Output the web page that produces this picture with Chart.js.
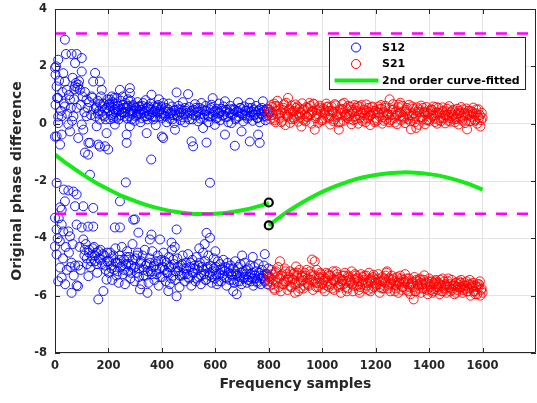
<!DOCTYPE html>
<html>
<head>
<meta charset="utf-8">
<script src="https://cdn.jsdelivr.net/npm/chart.js"></script>
<style>
  html, body { margin: 0; padding: 0; background: #fff; }
</style>
</head>
<body>
<canvas id="grafico" width="537" height="403"></canvas>
<script>
// S12 - banda superior (perto de 0) e pontos soltos
const s12Upper = [
  [0,1.95],[2,1.71],[4,2.0],[6,1.30],[12,2.23],[12,0.89],[2,0.66],[12,0.25],[12,0.02],[6,-0.44],[0,-0.45],[19,-0.73],
  [25,0.26],[25,-0.38],[31,1.76],[37,2.93],[37,1.47],[37,0.60],[41,2.43],[44,1.18],[50,-0.03],[56,0.84],[56,-0.27],
  [62,2.43],[69,0.26],[75,2.11],[75,1.30],[81,2.43],[81,0.55],[87,1.36],[87,-0.50],[93,1.18],[100,2.29],[100,1.82],
  [100,-0.03],[106,-0.21],[118,0.84],[118,0.26],[125,-0.67],[131,-0.67],[137,0.95],[143,1.47],[150,1.77],[156,0.60],
  [156,-0.09],[162,-0.73],[168,1.47],[168,0.14],[168,-0.80],[175,1.18],[187,0.49],[187,-0.79],[193,-0.33],[199,-0.90],
  [78,1.42],[84,1.25],[90,1.48],[72,1.2],[8,0.9],[15,1.5],[22,0.45],[28,1.1],[33,0.7],[46,0.35],[52,1.0],[59,0.55],
  [64,0.1],[66,1.6],[71,0.85],[96,0.65],[103,0.95],[110,0.4],[112,1.1],[122,0.55],[128,0.75],[135,0.3],[140,0.9],
  [146,0.5],[152,0.25],[160,0.8],[165,0.45],[172,0.95],[178,0.3],[182,0.7],[190,0.15],[196,0.85],
  [202,0.45],[204,0.7],[206,0.84],[208,0.6],[210,0.3],[213,0.95],[216,0.55],[218,0.20],[220,0.35],[222,0.9],[224,-0.03],
  [226,0.7],[228,0.4],[231,0.89],[233,0.5],[236,0.62],[238,0.15],[241,0.28],[243,1.18],[246,0.8],[248,0.5],[250,0.4],
  [253,0.95],[255,0.65],[258,0.38],[261,0.25],[264,0.72],[268,0.55],[268,-0.38],[268,-0.67],[270,0.18],[273,0.85],
  [276,0.6],[280,1.24],[280,1.07],[280,0.26],[280,-0.09],[283,0.8],[286,0.45],[289,0.35],[292,0.65],[295,0.6],[298,0.1],
  [302,0.55],[305,0.49],[306,0.3],[309,0.75],[311,0.35],[314,0.42],[317,0.6],[320,0.05],[324,0.2],[327,0.62],[330,0.72],
  [333,0.38],[336,0.45],[339,0.82],[343,0.26],[343,-0.33],[346,0.15],[349,0.6],[352,0.5],[355,0.3],[358,0.7],[361,1.01],
  [364,0.25],[368,0.15],[371,0.6],[374,0.45],[377,-0.05],[380,0.55],[383,0.4],[386,0.65],[389,0.85],[392,0.26],[395,0.5],
  [398,0.35],[400,-0.45],[401,0.2],[405,0.72],[405,-0.50],
  [410,0.28],[414,0.55],[418,0.05],[422,0.42],[426,0.7],[430,0.18],[434,0.38],[438,0.6],[442,0.3],[446,0.02],[449,-0.21],
  [450,0.48],[455,1.09],[458,0.25],[462,0.62],[466,0.38],[470,0.12],[474,0.5],[478,0.75],[482,0.32],[486,0.05],[490,0.45],
  [494,0.22],[498,1.03],[502,0.58],[506,0.36],[511,-0.62],[514,0.15],[517,-0.79],[520,0.48],[524,0.68],[528,0.28],
  [532,0.4],[536,0.08],[540,0.55],[544,0.33],[548,0.72],[554,-0.15],[556,0.2],[560,0.45],[564,0.62],[567,-0.66],
  [570,0.3],[574,0.05],[578,0.5],[582,0.25],[586,0.66],[590,0.89],[594,0.4],[598,-0.04],[602,0.18],[606,0.52],
  [610,0.35],[614,0.7],[618,0.12],[622,0.45],[626,0.28],[630,0.6],[636,0.78],[636,-0.38],[640,0.22],[644,0.48],
  [648,0.05],[652,0.38],[656,0.62],[660,0.02],[664,0.3],[668,0.52],[673,-0.77],[676,0.15],[680,0.42],[685,0.75],
  [688,0.25],[692,0.55],[698,-0.27],[700,0.35],[704,0.08],[708,0.6],[712,0.3],[716,0.45],[720,0.18],[724,0.55],
  [729,0.73],[729,-0.62],[732,0.28],[736,0.42],[740,0.1],[744,0.5],[748,0.32],[752,0.62],[756,0.2],[760,-0.38],
  [762,0.45],[766,0.05],[766,-0.67],[770,0.35],[774,0.55],[778,0.78],[780,0.25],[784,0.42],[788,0.12],[792,0.5],
  [796,0.3],[800,0.4],
  [153,0.55],[161,0.35],[169,0.7],[177,0.6],[185,0.25],[192,0.55],[200,0.65],[207,0.15],[215,0.75],[223,0.5],[230,0.2],
  [239,0.45],[247,0.3],[256,0.55],[263,0.4],[271,0.62],[279,0.38],[287,0.15],[294,0.45],[303,0.25],[312,0.6],[319,0.35],
  [326,0.48],[335,0.25],[344,0.55],[351,0.32],[360,0.5],[367,0.4],[375,0.22],[382,0.6],[391,0.42],[399,0.6],[407,0.38],
  [415,0.25],[423,0.5],[431,0.35],[439,0.15],[447,0.45],[456,0.3],[463,0.5],[471,0.4],[479,0.22],[487,0.55],[495,0.38],
  [503,0.15],[512,0.45],[519,0.3],[527,0.55],[535,0.42],[543,0.18],[551,0.5],[559,0.32],[567,0.45],[575,0.25],[583,0.55],
  [591,0.3],[599,0.45],[607,0.2],[615,0.38],[623,0.52],[631,0.3],[639,0.42],[647,0.25],[655,0.5],[663,0.35],[671,0.48],
  [679,0.2],[687,0.4],[695,0.55],[703,0.3],[711,0.45],[719,0.25],[727,0.4],[735,0.55],[743,0.3],[751,0.42],[759,0.2],
  [767,0.5],[775,0.32],[783,0.45],[791,0.25],[799,0.5]
];

// S12 - banda inferior (perto de -2pi) e pontos soltos do meio
const s12Lower = [
  [6,-2.07],[33,-2.3],[50,-2.33],[69,-2.37],[81,-2.47],[37,-2.71],[19,-2.92],[25,-3.0],[106,-2.88],[75,-2.88],
  [143,-2.94],[243,-2.71],[265,-2.05],[580,-2.06],[131,-1.78],[112,-1.01],[124,-1.08],[360,-1.25],
  [0,-3.28],[25,-3.52],[6,-3.69],[31,-3.76],[50,-3.76],[81,-3.52],[100,-3.62],[124,-3.59],[143,-3.59],[56,-3.93],
  [106,-4.04],[224,-3.62],[243,-3.62],[312,-3.80],[355,-4.04],[0,-4.28],[6,-4.56],[19,-5.02],[25,-5.37],[62,-4.85],
  [75,-4.95],[87,-4.95],[81,-5.64],[62,-5.90],[181,-5.84],[162,-6.13],[125,-5.32],[86,-5.67],[193,-5.44],[318,-5.78],
  [424,-5.84],[455,-6.02],[346,-5.9],[667,-5.84],[680,-5.95],[455,-3.69],[567,-3.81],[580,-3.98],[299,-3.34],
  [393,-4.04],[361,-3.87],[293,-3.35],
  [10,-4.0],[14,-3.3],[40,-4.3],[44,-5.1],[12,-5.5],[30,-4.7],[52,-4.5],[66,-4.2],[92,-4.3],[96,-5.1],[110,-4.6],
  [115,-4.2],[120,-4.9],[128,-4.4],[133,-5.0],[138,-4.6],[146,-4.3],[150,-4.8],[154,-4.5],[158,-5.2],[164,-4.7],
  [170,-4.4],[176,-4.9],[184,-4.6],[190,-5.1],[196,-4.8],[38,-5.6],[18,-4.1],[70,-5.3],[58,-5.0],
  [202,-5.2],[206,-4.5],[210,-4.95],[214,-5.45],[218,-4.7],[222,-5.1],[226,-4.35],[230,-5.3],[234,-4.85],[238,-5.55],
  [242,-4.6],[246,-5.0],[250,-4.3],[254,-5.25],[258,-4.75],[262,-5.6],[266,-4.9],[270,-4.45],[274,-5.15],[278,-4.65],
  [282,-5.4],[286,-4.95],[290,-4.2],[294,-5.05],[298,-5.5],[302,-4.7],[306,-5.2],[310,-4.5],[314,-5.35],[320,-4.85],
  [324,-5.6],[328,-4.6],[332,-5.1],[336,-4.4],[340,-5.3],[344,-4.9],[350,-5.55],[354,-4.7],[358,-5.15],[364,-4.45],
  [368,-5.0],[372,-5.45],[376,-4.8],[380,-5.25],[384,-4.6],[388,-5.65],[392,-5.05],[398,-4.75],[402,-5.35],[406,-4.5],
  [410,-5.1],[414,-5.5],[418,-4.85],[422,-5.2],[426,-4.65],[430,-5.6],[434,-5.0],[436,-4.15],[438,-4.4],[442,-5.3],
  [446,-4.9],[448,-4.3],[450,-5.45],[458,-4.7],[462,-5.15],[466,-5.7],[470,-4.95],[474,-5.3],[478,-4.6],[482,-5.05],
  [486,-5.5],[490,-4.85],[494,-5.25],[498,-4.55],[502,-5.4],[506,-5.0],[510,-5.65],[514,-4.75],[518,-5.2],[522,-4.95],
  [526,-5.5],[530,-4.65],[534,-5.1],[538,-5.35],[540,-4.35],[542,-4.85],[546,-5.6],[550,-5.0],[554,-4.5],[558,-5.25],
  [560,-4.2],[562,-4.8],[566,-5.45],[570,-5.05],[574,-4.6],[578,-5.3],[582,-4.95],[586,-5.55],[590,-5.15],[594,-4.7],
  [598,-5.4],[600,-4.45],[602,-5.0],[606,-5.6],[610,-4.8],[614,-5.25],[618,-4.9],[622,-5.5],[626,-5.1],[630,-4.75],
  [634,-5.35],[638,-5.0],[642,-5.65],[646,-4.85],[650,-5.2],[654,-5.45],[658,-4.95],[662,-5.3],[666,-5.05],[670,-5.55],
  [674,-4.8],[678,-5.25],[682,-5.5],[686,-5.0],[690,-5.35],[694,-4.9],[698,-5.6],[700,-4.6],[702,-5.15],[706,-5.4],
  [710,-4.85],[714,-5.25],[718,-5.55],[722,-5.05],[726,-5.35],[730,-4.95],[734,-5.5],[738,-5.2],[740,-4.65],[742,-5.65],
  [746,-5.0],[750,-5.4],[754,-5.15],[758,-5.55],[762,-4.9],[766,-5.3],[770,-5.6],[774,-5.1],[778,-5.4],[782,-4.95],
  [785,-4.55],[786,-5.5],[790,-5.25],[794,-5.6],[798,-5.05],[800,-5.35],
  [111,-4.4],[119,-4.7],[127,-4.5],[135,-4.8],[141,-4.35],[149,-4.6],[157,-4.9],[163,-4.45],[171,-4.75],[179,-4.55],
  [187,-4.95],[195,-4.5],[203,-4.8],[211,-5.05],[219,-4.6],[227,-4.85],[235,-5.15],[243,-4.75],[251,-4.95],[259,-5.1],
  [267,-4.65],[275,-4.9],[283,-5.2],[291,-4.75],[299,-5.0],[307,-4.6],[315,-5.05],[323,-4.8],[331,-5.3],[339,-4.95],
  [347,-5.15],[355,-4.85],[363,-5.25],[371,-4.95],[379,-5.1],[387,-4.8],[395,-5.35],[403,-5.0],[411,-4.8],[419,-5.2],
  [427,-5.0],[435,-5.4],[443,-4.75],[451,-5.15],[459,-5.0],[467,-5.3],[475,-4.9],[483,-5.25],[491,-5.05],[499,-5.35],
  [507,-4.85],[515,-5.2],[523,-5.05],[531,-5.4],[539,-4.95],[547,-5.3],[555,-5.1],[563,-5.45],[571,-5.0],[579,-5.2],
  [587,-5.35],[595,-5.05],[603,-5.25],[611,-5.5],[619,-5.1],[627,-5.3],[635,-5.15],[643,-5.4],[651,-5.05],[659,-5.25],
  [667,-5.45],[675,-5.15],[683,-5.3],[691,-5.5],[699,-5.2],[707,-5.35],[715,-5.1],[723,-5.45],[731,-5.25],[739,-5.4],
  [747,-5.3],[755,-5.5],[763,-5.2],[771,-5.4],[779,-5.3],[787,-5.45],[795,-5.25]
];

// S21 - banda superior
const s21Upper = [
  [800,0.5],[805,0.15],[810,0.65],[815,0.3],[820,0.7],[825,0.05],[830,0.45],[835,0.6],[840,0.2],[845,0.4],
  [850,0.1],[855,0.55],[860,0.35],[865,0.73],[870,0.25],[875,0.47],[880,0.03],[885,0.63],[890,0.43],[895,0.17],
  [900,0.67],[905,0.27],[910,0.07],[915,0.53],[920,0.39],[925,0.71],[930,0.13],[935,0.33],[940,0.57],[945,0.23],
  [950,0.3],[955,0.62],[960,0.0],[965,0.45],[970,0.68],[975,0.19],[980,0.47],[985,0.03],[990,0.63],[995,0.43],
  [1000,0.12],[1005,0.52],[1010,0.32],[1015,0.7],[1020,0.22],[1025,0.44],[1030,-0.03],[1035,0.6],[1040,0.4],[1045,0.14],
  [1050,0.64],[1055,0.24],[1060,0.04],[1065,0.5],[1070,0.36],[1075,0.68],[1080,0.1],[1085,0.3],[1090,0.54],[1095,0.2],
  [1100,0.27],[1105,0.59],[1110,-0.02],[1115,0.42],[1120,0.65],[1125,0.16],[1130,0.44],[1135,0.0],[1140,0.6],[1145,0.4],
  [1150,0.09],[1155,0.49],[1160,0.29],[1165,0.67],[1170,0.19],[1175,0.41],[1180,-0.05],[1185,0.57],[1190,0.37],[1195,0.11],
  [1200,0.45],[1205,0.1],[1210,0.6],[1215,0.25],[1220,0.65],[1225,0.0],[1230,0.4],[1235,0.55],[1240,0.15],[1245,0.35],
  [1250,0.05],[1255,0.5],[1260,0.3],[1265,0.68],[1270,0.2],[1275,0.42],[1280,-0.02],[1285,0.58],[1290,0.38],[1295,0.12],
  [1300,0.62],[1305,0.22],[1310,0.02],[1315,0.48],[1320,0.34],[1325,0.66],[1330,0.08],[1335,0.28],[1340,0.52],[1345,0.18],
  [1350,0.25],[1355,0.57],[1360,-0.04],[1365,0.4],[1370,0.63],[1375,0.14],[1380,0.42],[1385,-0.02],[1390,0.58],[1395,0.38],
  [1400,0.1],[1405,0.45],[1410,0.27],[1415,0.6],[1420,0.17],[1425,0.39],[1430,0.0],[1435,0.55],[1440,0.35],[1445,0.09],
  [1450,0.57],[1455,0.19],[1460,0.01],[1465,0.43],[1470,0.31],[1475,0.61],[1480,0.07],[1485,0.25],[1490,0.49],[1495,0.15],
  [1500,0.22],[1505,0.52],[1510,-0.03],[1515,0.37],[1520,0.58],[1525,0.11],[1530,0.39],[1535,0.02],[1540,0.53],[1545,0.33],
  [1550,0.08],[1555,0.44],[1560,0.24],[1565,0.56],[1570,0.14],[1575,0.36],[1580,0.0],[1585,0.5],[1590,0.3],[1595,0.12],
  [1600,0.2],
  [802,0.35],[812,0.58],[822,0.12],[832,0.8],[842,0.28],[852,0.48],[862,-0.05],[872,0.9],[882,0.38],[892,0.22],
  [902,0.55],[912,0.31],[922,-0.1],[932,0.5],[942,0.25],[952,0.72],[962,0.4],[972,-0.21],[982,0.34],[992,0.56],
  [1002,0.18],[1012,0.46],[1022,0.6],[1032,0.28],[1042,0.08],[1052,0.42],[1062,-0.21],[1072,0.52],[1082,0.73],[1092,0.33],
  [1102,0.15],[1112,0.48],[1122,0.25],[1132,0.62],[1142,0.2],[1152,0.38],[1162,0.05],[1172,0.55],[1182,0.3],[1192,0.45],
  [1202,0.2],[1212,0.37],[1222,0.52],[1232,0.1],[1242,0.3],[1252,0.85],[1262,0.48],[1272,0.04],[1282,0.33],[1292,0.73],
  [1302,0.26],[1312,0.42],[1322,0.15],[1332,-0.2],[1342,0.36],[1352,-0.15],[1362,0.5],[1372,0.22],[1382,0.4],[1392,0.12],
  [1402,0.33],[1412,0.48],[1422,0.06],[1432,0.38],[1442,0.2],[1452,0.45],[1462,0.28],[1472,0.1],[1482,0.4],[1492,0.3],
  [1502,0.16],[1512,0.45],[1522,0.25],[1532,0.35],[1542,-0.2],[1552,0.3],[1562,0.42],[1572,0.1],[1582,0.28],[1592,-0.1],
  [807,0.42],[817,0.2],[827,0.62],[837,0.35],[847,0.05],[857,0.68],[867,0.3],[877,0.52],[887,0.15],[897,0.44],
  [907,0.6],[917,0.22],[927,0.48],[937,0.08],[947,0.55],[957,0.33],[967,0.7],[977,0.26],[987,0.5],[997,0.1],
  [1007,0.38],[1017,0.58],[1027,0.2],[1037,0.45],[1047,0.68],[1057,0.3],[1067,0.05],[1077,0.5],[1087,0.25],[1097,0.62],
  [1107,0.35],[1117,0.12],[1127,0.55],[1137,0.3],[1147,0.65],[1157,0.18],[1167,0.45],[1177,0.28],[1187,0.6],[1197,0.05],
  [1207,0.4],[1217,0.52],[1227,0.22],[1237,0.62],[1247,0.32],[1257,0.12],[1267,0.5],[1277,0.28],[1287,0.66],[1297,0.4],
  [1307,0.18],[1317,0.55],[1327,0.3],[1337,0.6],[1347,0.05],[1357,0.42],[1367,0.22],[1377,0.55],[1387,0.35],[1397,0.15],
  [1407,0.5],[1417,0.28],[1427,0.58],[1437,0.12],[1447,0.4],[1457,0.3],[1467,0.52],[1477,0.2],[1487,0.45],[1497,0.05],
  [1507,0.35],[1517,0.18],[1527,0.5],[1537,0.28],[1547,0.45],[1557,0.1],[1567,0.35],[1577,0.5],[1587,0.2],[1597,0.38]
];

// S21 - banda inferior
const s21Lower = [
  [800,-5.3],[805,-5.65],[810,-5.1],[815,-5.45],[820,-5.75],[825,-5.2],[830,-5.55],[835,-5.0],[840,-5.4],[845,-5.85],
  [850,-5.25],[855,-5.6],[860,-5.05],[865,-5.5],[870,-5.8],[875,-5.35],[880,-5.15],[885,-5.7],[890,-5.45],[895,-5.2],
  [900,-5.6],[905,-5.3],[910,-5.85],[915,-5.1],[920,-5.5],[925,-5.35],[930,-5.75],[935,-5.2],[940,-5.55],[945,-5.4],
  [950,-5.65],[955,-5.15],[960,-5.45],[965,-5.8],[970,-5.3],[975,-5.55],[980,-5.1],[985,-5.7],[990,-5.4],[995,-5.25],
  [1000,-5.6],[1005,-5.35],[1010,-5.85],[1015,-5.2],[1020,-5.5],[1025,-5.7],[1030,-5.3],[1035,-5.55],[1040,-5.15],[1045,-5.8],
  [1050,-5.45],[1055,-5.25],[1060,-5.65],[1065,-5.4],[1070,-5.9],[1075,-5.3],[1080,-5.6],[1085,-5.2],[1090,-5.5],[1095,-5.75],
  [1100,-5.35],[1105,-5.55],[1110,-5.15],[1115,-5.85],[1120,-5.45],[1125,-5.3],[1130,-5.65],[1135,-5.4],[1140,-5.9],[1145,-5.25],
  [1150,-5.6],[1155,-5.45],[1160,-5.75],[1165,-5.3],[1170,-5.55],[1175,-5.2],[1180,-5.85],[1185,-5.5],[1190,-5.35],[1195,-5.7],
  [1200,-5.45],[1205,-5.6],[1210,-5.25],[1215,-5.9],[1220,-5.5],[1225,-5.35],[1230,-5.75],[1235,-5.55],[1240,-5.2],[1245,-5.65],
  [1250,-5.4],[1255,-5.85],[1260,-5.3],[1265,-5.6],[1270,-5.5],[1275,-5.75],[1280,-5.35],[1285,-5.9],[1290,-5.55],[1295,-5.4],
  [1300,-5.7],[1305,-5.45],[1310,-5.25],[1315,-5.8],[1320,-5.6],[1325,-5.4],[1330,-5.95],[1335,-5.55],[1340,-5.7],[1345,-5.35],
  [1350,-5.85],[1355,-5.5],[1360,-5.65],[1365,-5.4],[1370,-5.9],[1375,-5.6],[1380,-5.45],[1385,-5.75],[1390,-5.55],[1395,-5.95],
  [1400,-5.4],[1405,-5.7],[1410,-5.5],[1415,-5.85],[1420,-5.6],[1425,-5.45],[1430,-5.8],[1435,-5.55],[1440,-5.95],[1445,-5.65],
  [1450,-5.4],[1455,-5.75],[1460,-5.6],[1465,-5.9],[1470,-5.5],[1475,-5.7],[1480,-5.85],[1485,-5.45],[1490,-5.65],[1495,-5.95],
  [1500,-5.55],[1505,-5.8],[1510,-5.6],[1515,-5.7],[1520,-5.45],[1525,-5.9],[1530,-5.65],[1535,-5.75],[1540,-5.5],[1545,-5.85],
  [1550,-5.6],[1555,-6.0],[1560,-5.7],[1565,-5.55],[1570,-5.85],[1575,-5.65],[1580,-5.95],[1585,-5.7],[1590,-5.5],[1595,-5.8],
  [1600,-5.9],
  [802,-5.5],[812,-5.25],[822,-5.8],[832,-5.35],[842,-4.8],[852,-5.6],[862,-5.15],[872,-5.45],[882,-5.7],[892,-5.25],
  [898,-5.9],[902,-4.98],[912,-5.55],[922,-5.3],[932,-5.65],[942,-5.1],[952,-5.45],[962,-4.74],[972,-4.8],[982,-5.55],
  [992,-5.2],[1002,-5.75],[1012,-5.4],[1022,-5.25],[1032,-5.6],[1042,-5.45],[1052,-5.15],[1062,-5.7],[1072,-5.5],[1082,-5.3],
  [1092,-5.85],[1102,-5.45],[1112,-5.6],[1122,-5.25],[1132,-5.5],[1142,-5.7],[1152,-5.35],[1162,-5.55],[1172,-5.8],[1182,-5.4],
  [1192,-5.27],[1202,-5.65],[1212,-5.5],[1222,-5.75],[1232,-5.4],[1242,-5.15],[1252,-5.6],[1262,-5.45],[1272,-5.85],[1282,-5.55],
  [1292,-5.3],[1302,-5.7],[1312,-5.5],[1322,-5.85],[1332,-5.6],[1342,-6.13],[1352,-5.45],[1362,-5.75],[1372,-5.55],[1382,-5.29],
  [1392,-5.8],[1402,-5.6],[1412,-5.9],[1422,-5.5],[1432,-5.7],[1442,-5.45],[1452,-5.85],[1462,-5.65],[1472,-5.4],[1482,-5.75],
  [1492,-5.6],[1502,-5.9],[1512,-5.5],[1522,-5.7],[1532,-5.55],[1542,-5.85],[1552,-5.45],[1562,-5.65],[1572,-5.95],[1582,-5.6],
  [1592,-6.0],
  [807,-5.4],[817,-5.6],[827,-5.15],[837,-5.7],[847,-5.3],[857,-5.5],[867,-5.25],[877,-5.65],[887,-5.4],[897,-5.55],
  [907,-5.2],[917,-5.75],[927,-5.45],[937,-5.3],[947,-5.6],[957,-5.25],[967,-5.5],[977,-5.7],[987,-5.35],[997,-5.55],
  [1007,-5.45],[1017,-5.65],[1027,-5.3],[1037,-5.75],[1047,-5.5],[1057,-5.35],[1067,-5.6],[1077,-5.45],[1087,-5.7],[1097,-5.3],
  [1107,-5.5],[1117,-5.65],[1127,-5.4],[1137,-5.8],[1147,-5.5],[1157,-5.3],[1167,-5.65],[1177,-5.45],[1187,-5.75],[1197,-5.55],
  [1207,-5.4],[1217,-5.7],[1227,-5.5],[1237,-5.3],[1247,-5.75],[1257,-5.55],[1267,-5.4],[1277,-5.65],[1287,-5.5],[1297,-5.8],
  [1307,-5.55],[1317,-5.4],[1327,-5.7],[1337,-5.5],[1347,-5.85],[1357,-5.6],[1367,-5.45],[1377,-5.75],[1387,-5.6],[1397,-5.5],
  [1407,-5.8],[1417,-5.55],[1427,-5.7],[1437,-5.6],[1447,-5.85],[1457,-5.5],[1467,-5.7],[1477,-5.6],[1487,-5.8],[1497,-5.65],
  [1507,-5.7],[1517,-5.55],[1527,-5.8],[1537,-5.65],[1547,-5.75],[1557,-5.6],[1567,-5.85],[1577,-5.7],[1587,-5.6],[1597,-5.75]
];

// curvas ajustadas (2a ordem), antes e depois da amostra 800
const fitLeft = [
  [0,-1.08],[50,-1.43],[100,-1.75],[150,-2.04],[200,-2.29],[250,-2.52],[300,-2.70],[350,-2.86],[400,-2.98],
  [450,-3.07],[500,-3.13],[550,-3.15],[600,-3.14],[650,-3.10],[700,-3.02],[750,-2.91],[800,-2.77]
];
const fitRight = [
  [800,-3.55],[850,-3.20],[900,-2.89],[950,-2.62],[1000,-2.38],[1050,-2.18],[1100,-2.01],[1150,-1.88],[1200,-1.79],
  [1250,-1.73],[1300,-1.70],[1350,-1.71],[1400,-1.76],[1450,-1.84],[1500,-1.96],[1550,-2.11],[1600,-2.30]
];
const jumpPoints = [[800,-2.75],[800,-3.55]];

const piLevels = [3.1416, -3.1416];
const xRange = [0, 1800];
const xTicks = [0, 200, 400, 600, 800, 1000, 1200, 1400, 1600];
const yTicks = [-8, -6, -4, -2, 0, 2, 4];
const legendLabels = ['S12', 'S21', '2nd order curve-fitted'];

const corTexto = '#262626';
const verde = '#14ea14';

function pontos(lista) {
    return lista.map(p => ({ x: p[0], y: p[1] }));
}

Chart.defaults.font.family = "'DejaVu Sans', sans-serif";
Chart.defaults.font.weight = 'bold';
Chart.defaults.color = corTexto;

// moldura da área do gráfico com marcas internas (estilo MATLAB)
const moldura = {
    id: 'moldura',
    afterDraw(chart) {
        const ctx = chart.ctx;
        const a = chart.chartArea;
        const sx = chart.scales.x, sy = chart.scales.y;
        const t = 5;
        ctx.save();
        ctx.strokeStyle = corTexto;
        ctx.lineWidth = 1;
        ctx.beginPath();
        ctx.rect(a.left + 0.5, a.top + 0.5, a.right - a.left - 1, a.bottom - a.top - 1);
        xTicks.forEach(v => {
            const px = Math.round(sx.getPixelForValue(v)) + 0.5;
            ctx.moveTo(px, a.bottom); ctx.lineTo(px, a.bottom - t);
            ctx.moveTo(px, a.top); ctx.lineTo(px, a.top + t);
        });
        yTicks.forEach(v => {
            const py = Math.round(sy.getPixelForValue(v)) + 0.5;
            ctx.moveTo(a.left, py); ctx.lineTo(a.left + t, py);
            ctx.moveTo(a.right, py); ctx.lineTo(a.right - t, py);
        });
        ctx.stroke();
        ctx.restore();
    }
};

// legenda desenhada dentro da área do gráfico, canto superior direito
const legenda = {
    id: 'legenda',
    afterDraw(chart) {
        const ctx = chart.ctx;
        const a = chart.chartArea;
        const x0 = Math.round(a.right - 207) + 0.5, y0 = Math.round(a.top + 28) + 0.5, w = 196, h = 52;
        ctx.save();
        ctx.fillStyle = '#fff';
        ctx.fillRect(x0, y0, w, h);
        ctx.strokeStyle = corTexto;
        ctx.lineWidth = 1;
        ctx.strokeRect(x0, y0, w, h);

        const linhas = [y0 + 10, y0 + 26.5, y0 + 43];
        const xm = x0 + 26.5;
        ctx.lineWidth = 1;
        ctx.strokeStyle = '#0000ff';
        ctx.beginPath(); ctx.arc(xm, linhas[0], 4.5, 0, Math.PI * 2); ctx.stroke();
        ctx.strokeStyle = '#ff0000';
        ctx.beginPath(); ctx.arc(xm, linhas[1], 4.5, 0, Math.PI * 2); ctx.stroke();
        ctx.strokeStyle = verde;
        ctx.lineWidth = 4;
        ctx.beginPath(); ctx.moveTo(x0 + 5, linhas[2]); ctx.lineTo(x0 + 49, linhas[2]); ctx.stroke();

        ctx.fillStyle = '#000';
        ctx.font = "bold 11px 'DejaVu Sans', sans-serif";
        ctx.textBaseline = 'middle';
        legendLabels.forEach((txt, i) => ctx.fillText(txt, x0 + 52.5, linhas[i] + 0.5));
        ctx.restore();
    }
};

const dados = {
    datasets: [
        {
            label: 'salto',
            data: pontos(jumpPoints),
            pointRadius: 4,
            pointBorderWidth: 2.2,
            borderColor: '#000',
            backgroundColor: 'rgba(0,0,0,0)',
            order: 0
        },
        {
            label: '+pi',
            data: [{ x: xRange[0], y: piLevels[0] }, { x: xRange[1], y: piLevels[0] }],
            showLine: true,
            borderColor: '#ff00ff',
            borderWidth: 2.5,
            borderDash: [11, 10],
            pointRadius: 0,
            order: 1
        },
        {
            label: '-pi',
            data: [{ x: xRange[0], y: piLevels[1] }, { x: xRange[1], y: piLevels[1] }],
            showLine: true,
            borderColor: '#ff00ff',
            borderWidth: 2.5,
            borderDash: [11, 10],
            pointRadius: 0,
            order: 1
        },
        {
            label: legendLabels[2],
            data: pontos(fitLeft),
            showLine: true,
            borderColor: verde,
            borderWidth: 4,
            tension: 0.3,
            pointRadius: 0,
            order: 2
        },
        {
            label: legendLabels[2] + ' (2)',
            data: pontos(fitRight),
            showLine: true,
            borderColor: verde,
            borderWidth: 4,
            tension: 0.3,
            pointRadius: 0,
            order: 2
        },
        {
            label: legendLabels[1],
            data: pontos(s21Upper.concat(s21Lower)),
            pointRadius: 4.5,
            pointBorderWidth: 0.9,
            borderColor: '#ff0000',
            backgroundColor: 'rgba(0,0,0,0)',
            clip: 8,
            order: 3
        },
        {
            label: legendLabels[0],
            data: pontos(s12Upper.concat(s12Lower)),
            pointRadius: 4.5,
            pointBorderWidth: 0.9,
            borderColor: '#0000ff',
            backgroundColor: 'rgba(0,0,0,0)',
            clip: 8,
            order: 4
        }
    ]
};

const config = {
    type: 'scatter',
    data: dados,
    options: {
        responsive: false,
        animation: false,
        devicePixelRatio: 1,
        layout: { autoPadding: false, padding: { top: 9, right: 1, left: 0, bottom: 0 } },
        plugins: {
            legend: { display: false },
            tooltip: { enabled: false }
        },
        scales: {
            x: {
                type: 'linear',
                min: xRange[0],
                max: xRange[1],
                afterBuildTicks: s => { s.ticks = xTicks.map(v => ({ value: v })); },
                afterFit: s => { s.height = 50; s.paddingLeft = 0; s.paddingRight = 0; },
                border: { display: false },
                grid: { color: '#e3e3e3', drawTicks: false },
                ticks: {
                    padding: 6,
                    maxRotation: 0,
                    font: { size: 11.5, weight: 'bold' },
                    callback: v => String(v)
                },
                title: {
                    display: true,
                    text: 'Frequency samples',
                    font: { size: 14, weight: 'bold' },
                    padding: { top: 0, bottom: 10 }
                }
            },
            y: {
                min: yTicks[0],
                max: yTicks[yTicks.length - 1],
                afterBuildTicks: s => { s.ticks = yTicks.map(v => ({ value: v })); },
                afterFit: s => { s.width = 55; s.paddingTop = 0; s.paddingBottom = 0; },
                border: { display: false },
                grid: { color: '#e3e3e3', drawTicks: false },
                ticks: {
                    padding: 8,
                    font: { size: 11.5, weight: 'bold' },
                    callback: v => String(v)
                },
                title: {
                    display: true,
                    text: 'Original phase difference',
                    font: { size: 14, weight: 'bold' },
                    padding: { top: 9, bottom: 0 }
                }
            }
        }
    },
    plugins: [moldura, legenda]
};

let meuGrafico = new Chart(document.getElementById('grafico'), config);
</script>
</body>
</html>
